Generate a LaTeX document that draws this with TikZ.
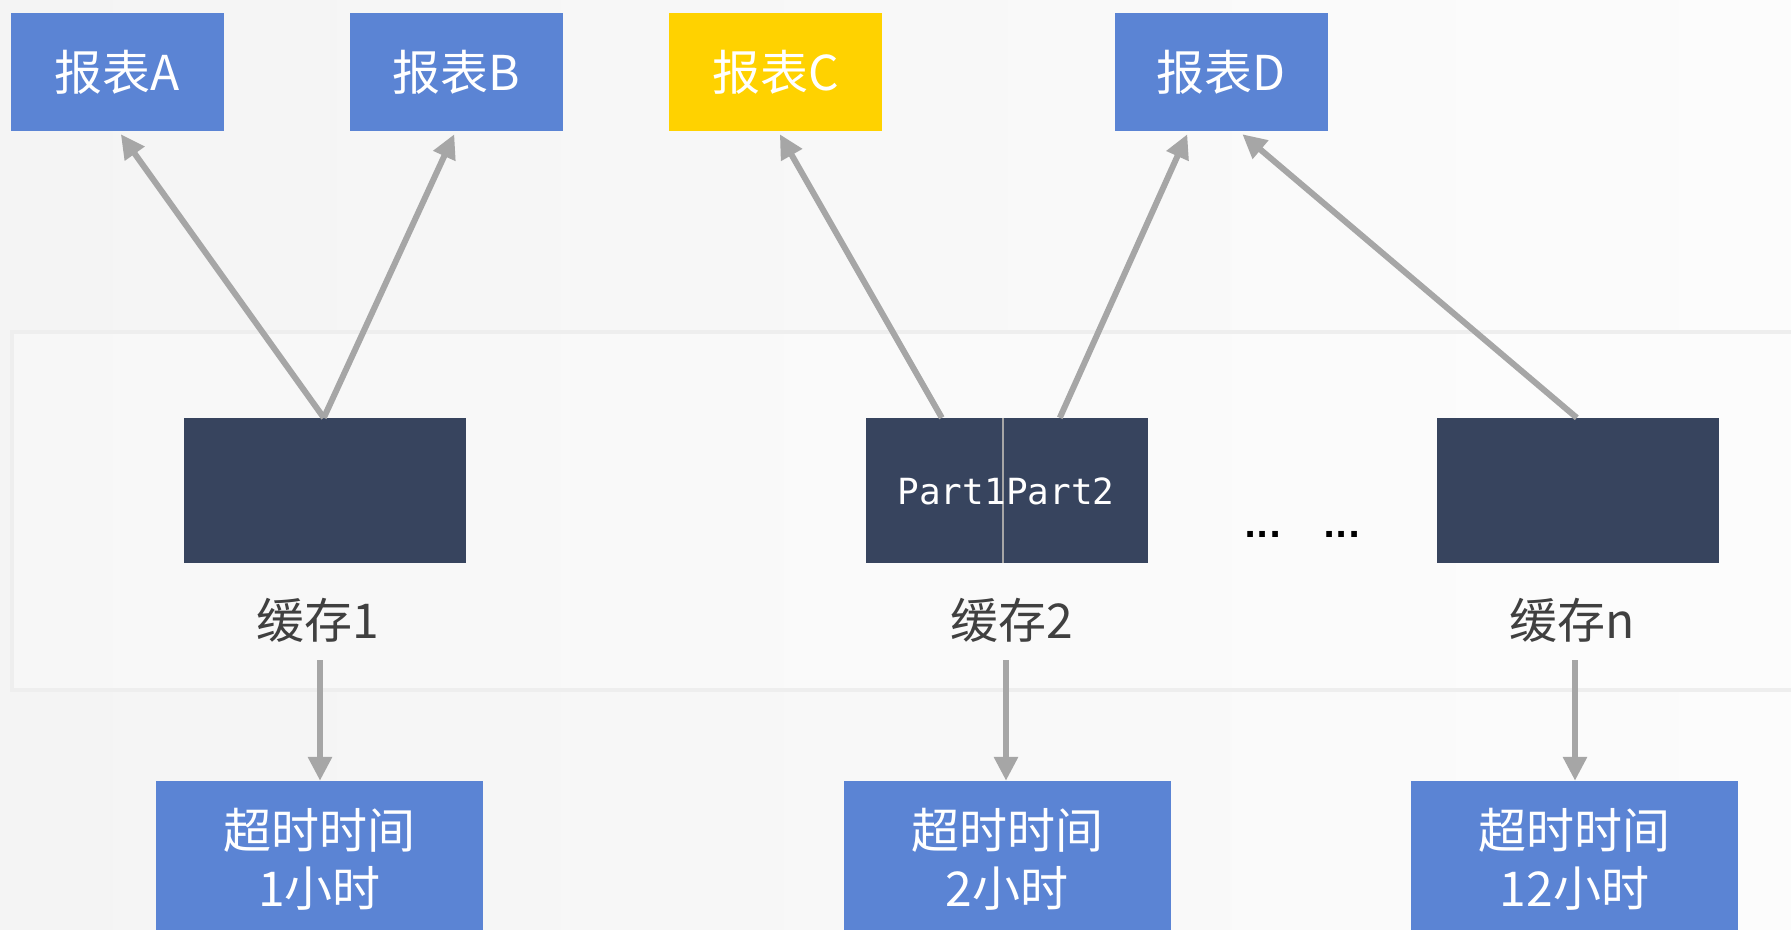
\documentclass[tikz,border=0pt]{standalone}
\usepackage{fontspec}
\setmainfont{Noto Sans CJK SC}
\newfontfamily\monofnt{DejaVu Sans Mono}
\newfontfamily\dotfnt{DejaVu Sans}
\usetikzlibrary{arrows.meta,calc}
\definecolor{bgl}{HTML}{F4F4F4}
\definecolor{bgr}{HTML}{FCFCFC}
\definecolor{bandline}{HTML}{EEEEEE}
\definecolor{blueb}{HTML}{5B84D4}
\definecolor{yellowb}{HTML}{FFD200}
\definecolor{navy}{HTML}{37445E}
\definecolor{arrowc}{HTML}{A6A6A6}
\definecolor{labelc}{HTML}{404040}
\tikzset{
  report/.style={fill=blueb, draw=none, minimum width=213pt, minimum height=118pt, inner sep=0pt, text=white, font=\fontsize{48}{50}\selectfont},
  cache/.style={fill=navy, draw=none, minimum width=282pt, minimum height=145pt, inner sep=0pt},
  cachelabel/.style={text=labelc, inner sep=0pt, font=\fontsize{48}{50}\selectfont},
  timeout/.style={fill=blueb, draw=none, minimum width=327pt, minimum height=156pt, inner sep=0pt, text=white, align=center, font=\fontsize{48}{58}\selectfont},
  conn/.style={draw=arrowc, line width=6pt, -{Triangle[length=24pt,width=23pt]}},
  dotsnode/.style={inner sep=0pt, font=\dotfnt\bfseries\fontsize{32}{32}\selectfont, text=black},
}
\begin{document}
\begin{tikzpicture}[x=1pt,y=-1pt]
\useasboundingbox (0,0) rectangle (1791,929);
\clip (0,0) rectangle (1791,929);
\shade[left color=bgl, right color=bgr] (0,0) rectangle (1791,929);
\fill[white, opacity=0.3] (12,332) rectangle (1800,690);
\draw[bandline, line width=4pt] (1800,332) -- (12,332) -- (12,690) -- (1800,690);

% reports
\node[report] (A) at (117.5,72) {报表A};
\node[report] (B) at (456,72) {报表B};
\node[report, fill=yellowb] (C) at (775.5,72) {报表C};
\node[report] (D) at (1221,72) {报表D};

% caches
\node[cache] (c1) at (325,490.5) {};
\node[cache] (c2) at (1007,490.5) {};
\node[cache] (cn) at (1578,490.5) {};
\draw[arrowc, line width=1.5pt] ($(c2.north west)+(137,0)$) -- ($(c2.south west)+(137,0)$);
\node[inner sep=0pt, text=white, font=\monofnt\fontsize{36}{40}\selectfont] (parts) at (1006,491) {Part1Part2};

\node[dotsnode] (dots1) at (1263,534) {...};
\node[dotsnode] (dots2) at (1342,534) {...};

% labels
\node[cachelabel] (l1) at (318,620) {缓存1};
\node[cachelabel] (l2) at (1012,620) {缓存2};
\node[cachelabel] (ln) at (1572,620) {缓存n};

% timeouts
\node[timeout] (t1) at (319.5,859) {超时时间\\1小时};
\node[timeout] (t2) at (1007,859) {超时时间\\2小时};
\node[timeout] (tn) at (1574.5,859) {超时时间\\12小时};

% up arrows
\coordinate (s1) at ($(c1.north west)+(140,0)$);
\draw[conn] (s1) -- ($(A.south west)+(110,3)$);
\draw[conn] (s1) -- ($(B.south west)+(105,3)$);
\coordinate (s2a) at ($(c2.north west)+(76,0)$);
\coordinate (s2b) at ($(c2.north west)+(194,0)$);
\draw[conn] (s2a) -- ($(C.south west)+(111,3)$);
\draw[conn] (s2b) -- ($(D.south west)+(73,3)$);
\coordinate (sn) at ($(cn.north west)+(140,0)$);
\draw[conn] (sn) -- ($(D.south west)+(128,3)$);

% down arrows
\draw[conn] (320,660) -- (t1.north -| 320,0);
\draw[conn] (1006,660) -- (t2.north -| 1006,0);
\draw[conn] (1575,660) -- (tn.north -| 1575,0);
\end{tikzpicture}
\end{document}
